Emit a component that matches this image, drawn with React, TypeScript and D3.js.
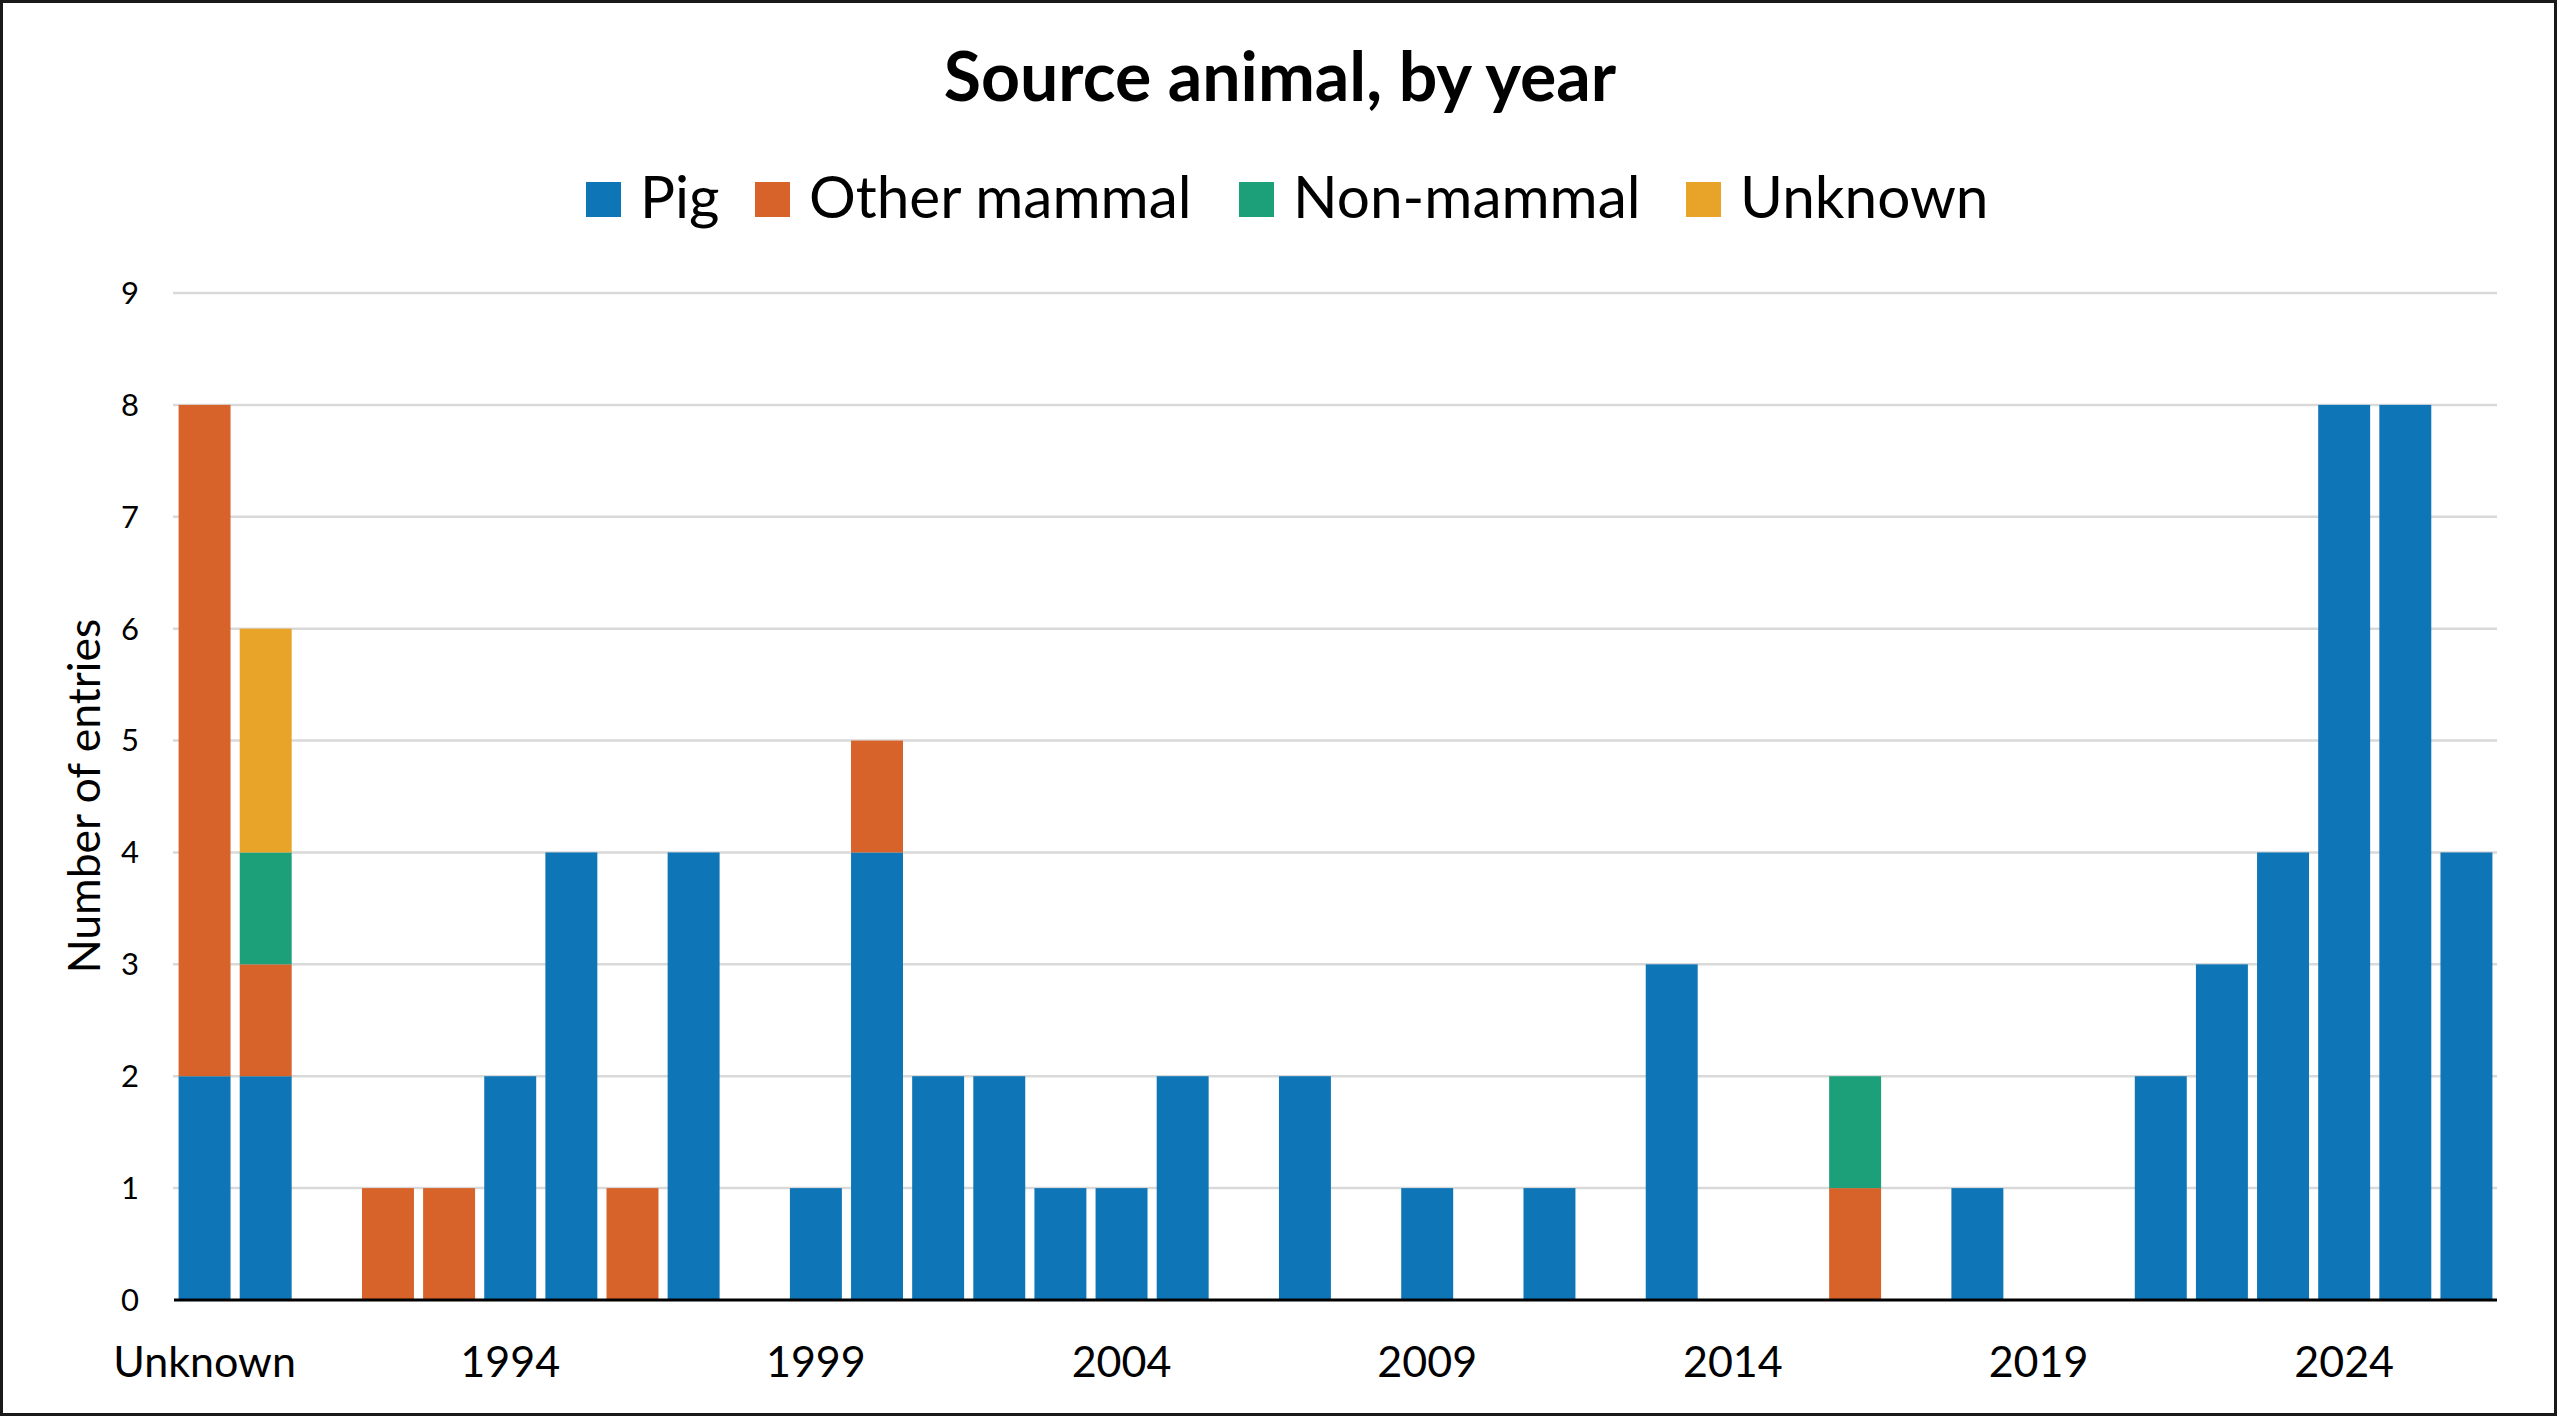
import React from "react";
import * as d3 from "d3";

// Categories (first slot is "Unknown" year, then one per year)
const categories: string[] = [
  "Unknown", "1990", "1991", "1992", "1993", "1994", "1995", "1996", "1997", "1998",
  "1999", "2000", "2001", "2002", "2003", "2004", "2005", "2006", "2007", "2008",
  "2009", "2010", "2011", "2012", "2013", "2014", "2015", "2016", "2017", "2018",
  "2019", "2020", "2021", "2022", "2023", "2024", "2025", "2026",
];

// Series values, one per category
const pig: number[] = [2, 2, 0, 0, 0, 2, 4, 0, 4, 0, 1, 4, 2, 2, 1, 1, 2, 0, 2, 0, 1, 0, 1, 0, 3, 0, 0, 0, 0, 1, 0, 0, 2, 3, 4, 8, 8, 4];
const otherMammal: number[] = [6, 1, 0, 1, 1, 0, 0, 1, 0, 0, 0, 1, 0, 0, 0, 0, 0, 0, 0, 0, 0, 0, 0, 0, 0, 0, 0, 1, 0, 0, 0, 0, 0, 0, 0, 0, 0, 0];
const nonMammal: number[] = [0, 1, 0, 0, 0, 0, 0, 0, 0, 0, 0, 0, 0, 0, 0, 0, 0, 0, 0, 0, 0, 0, 0, 0, 0, 0, 0, 1, 0, 0, 0, 0, 0, 0, 0, 0, 0, 0];
const unknownSrc: number[] = [0, 2, 0, 0, 0, 0, 0, 0, 0, 0, 0, 0, 0, 0, 0, 0, 0, 0, 0, 0, 0, 0, 0, 0, 0, 0, 0, 0, 0, 0, 0, 0, 0, 0, 0, 0, 0, 0];

const seriesNames: string[] = ["Pig", "Other mammal", "Non-mammal", "Unknown"];
const seriesColors: string[] = ["#0E76B7", "#D7632A", "#1BA079", "#E8A329"];

const yTicks: number[] = [0, 1, 2, 3, 4, 5, 6, 7, 8, 9];

const FONT = "Lato, 'Noto Sans', sans-serif";

const App: React.FC = () => {
  const width = 2560;
  const height = 1418;
  const plot = { left: 174, right: 2497, top: 293, bottom: 1300 };

  const rows = categories.map((c, i) => ({
    cat: c,
    "Pig": pig[i],
    "Other mammal": otherMammal[i],
    "Non-mammal": nonMammal[i],
    "Unknown": unknownSrc[i],
  }));

  const stacked = d3.stack<any>().keys(seriesNames)(rows);

  const x = d3
    .scaleBand()
    .domain(categories)
    .range([plot.left, plot.right])
    .paddingInner(0.15)
    .paddingOuter(0.075);

  const y = d3.scaleLinear().domain([0, 9]).range([plot.bottom, plot.top]);

  const color = d3.scaleOrdinal<string, string>().domain(seriesNames).range(seriesColors);

  // legend square positions
  const legendX = [586, 755, 1239, 1686];

  return (
    <svg
      width={width}
      height={height}
      style={{ position: "absolute", left: 0, top: 0, display: "block", background: "#fff" }}
      fontFamily={FONT}
    >
      <rect x={0} y={0} width={width} height={height} fill="#fff" />

      {/* Title */}
      <text x={1280} y={101} textAnchor="middle" fontSize={68} fontWeight={700} fill="#000">
        Source animal, by year
      </text>

      {/* Legend */}
      {seriesNames.map((s, i) => (
        <g key={s}>
          <rect x={legendX[i]} y={182} width={35} height={35} fill={color(s)} />
          <text x={legendX[i] + 54} y={218} fontSize={58.5} fill="#000">
            {s}
          </text>
        </g>
      ))}

      {/* Grid + y ticks */}
      {yTicks.map((t) => (
        <g key={t}>
          {t > 0 && (
            <line x1={plot.left - 1} x2={plot.right} y1={y(t)} y2={y(t)} stroke="#D9D9D9" strokeWidth={2.5} />
          )}
          <text x={139} y={y(t)} dy="0.35em" textAnchor="end" fontSize={31} fill="#000">
            {t}
          </text>
        </g>
      ))}

      {/* Bars */}
      {stacked.map((layer) => (
        <g key={layer.key} fill={color(layer.key)}>
          {layer.map((d, i) =>
            d[1] - d[0] > 0 ? (
              <rect
                key={i}
                x={x(categories[i])}
                y={y(d[1])}
                width={x.bandwidth()}
                height={y(d[0]) - y(d[1])}
              />
            ) : null
          )}
        </g>
      ))}

      {/* X axis line */}
      <line x1={plot.left} x2={plot.right} y1={plot.bottom} y2={plot.bottom} stroke="#000" strokeWidth={3} />

      {/* X tick labels (every 5th category) */}
      {categories.map((c, i) =>
        i % 5 === 0 ? (
          <text key={c} x={x(c)! + x.bandwidth() / 2} y={1377} textAnchor="middle" fontSize={43} fill="#000">
            {c}
          </text>
        ) : null
      )}

      {/* Y title */}
      <text transform="translate(100,796) rotate(-90)" textAnchor="middle" fontSize={44.5} fill="#000">
        Number of entries
      </text>

      {/* Outer border */}
      <rect x={1.5} y={1.5} width={2554} height={1413} fill="none" stroke="#1a1a1a" strokeWidth={3} />
    </svg>
  );
};

export default App;
